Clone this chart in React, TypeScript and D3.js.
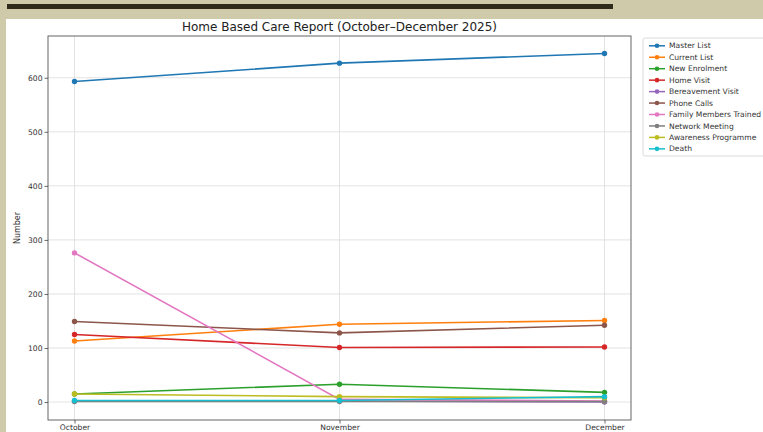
import React, { useEffect, useRef } from 'react';
import * as d3 from 'd3';

const width = 763;
const height = 432;
const margin = { top: 36, right: 132, bottom: 12, left: 48 };
const font = 'DejaVu Sans, sans-serif';

// chart values
const months = ['October', 'November', 'December'];
const seriesNames = [
	'Master List',
	'Current List',
	'New Enrolment',
	'Home Visit',
	'Bereavement Visit',
	'Phone Calls',
	'Family Members Trained',
	'Network Meeting',
	'Awareness Programme',
	'Death'
];
const masterList = [593, 627, 645];
const currentList = [113, 144, 151];
const newEnrolment = [15, 33, 18];
const homeVisit = [125, 101, 102];
const bereavementVisit = [2, 2, 0];
const phoneCalls = [149, 128, 142];
const familyTrained = [276, 5, 2];
const networkMeeting = [1, 1, 1];
const awarenessProgramme = [15, 10, 8];
const death = [3, 3, 10];
const yTicks = [0, 100, 200, 300, 400, 500, 600];

const colors = d3.schemeCategory10;

export default function App() {
	const axisX = useRef(null);
	const axisY = useRef(null);

	const values = [
		masterList,
		currentList,
		newEnrolment,
		homeVisit,
		bereavementVisit,
		phoneCalls,
		familyTrained,
		networkMeeting,
		awarenessProgramme,
		death
	];
	const series = seriesNames.map((name, i) => ({ name, values: values[i], color: colors[i] }));

	const plotRightX = 631; // right spine
	const plotBottom = height - margin.bottom;
	const plotW = plotRightX - margin.left;

	const xScale = d3.scalePoint().domain(months).range([margin.left, plotRightX]).padding(0.1);

	// matplotlib style 5% padding on the data range
	const lo = d3.min(values.flat());
	const hi = d3.max(values.flat());
	const pad = (hi - lo) * 0.05;
	const yScale = d3.scaleLinear().domain([lo - pad, hi + pad]).range([plotBottom - 0.5, margin.top]);

	const line = d3
		.line()
		.x((d, i) => xScale(months[i]))
		.y((d) => yScale(d));

	useEffect(() => {
		const xa = d3.select(axisX.current).call(d3.axisBottom(xScale).tickSize(3.5).tickPadding(1.5));
		const ya = d3.select(axisY.current).call(d3.axisLeft(yScale).tickValues(yTicks).tickSize(3.5).tickPadding(2));
		[xa, ya].forEach((a) => {
			a.select('.domain').remove();
			a.selectAll('text').attr('font-size', 7.6).attr('font-family', font).attr('fill', '#333');
			a.selectAll('line').attr('stroke', '#444').attr('stroke-width', 0.8);
		});
	});

	return (
		<div style={{ position: 'fixed', left: 0, top: 0 }}>
			<svg width={width} height={height} style={{ display: 'block' }}>
				<rect x={0} y={0} width={width} height={height} fill="#cfcaa9" />
				<rect x={7} y={4} width={606} height={5} fill="#2e2a1c" />
				<rect x={6} y={19} width={width - 6} height={height - 19} fill="#fff" />

				<text x={margin.left + plotW / 2} y={31} textAnchor="middle" fontFamily={font} fontSize={12} fill="#222">
					Home Based Care Report (October–December 2025)
				</text>

				{/* grid */}
				<g stroke="#dcdcdc" strokeWidth={0.8}>
					{months.map((m) => (
						<line key={m} x1={xScale(m)} x2={xScale(m)} y1={margin.top} y2={plotBottom} />
					))}
					{yTicks.map((t) => (
						<line key={t} x1={margin.left} x2={plotRightX} y1={yScale(t)} y2={yScale(t)} />
					))}
				</g>

				{series.map((s) => (
					<g key={s.name}>
						<path d={line(s.values)} fill="none" stroke={s.color} strokeWidth={1.6} />
						{s.values.map((v, i) => (
							<circle key={i} cx={xScale(months[i])} cy={yScale(v)} r={2.7} fill={s.color} />
						))}
					</g>
				))}

				<rect
					x={margin.left}
					y={margin.top}
					width={plotW}
					height={plotBottom - margin.top}
					fill="none"
					stroke="#555"
					strokeWidth={0.9}
				/>
				<g ref={axisX} transform={`translate(0, ${plotBottom})`} />
				<g ref={axisY} transform={`translate(${margin.left}, 0)`} />

				<text
					transform={`translate(20, ${(margin.top + plotBottom) / 2}) rotate(-90)`}
					textAnchor="middle"
					fontFamily={font}
					fontSize={8}
					fill="#333"
				>
					Number
				</text>

				{/* legend */}
				<g>
					<rect x={643} y={38} width={130} height={118} rx={2} fill="#fff" stroke="#d0d0d0" strokeWidth={0.8} />
					{series.map((s, i) => {
						const y = 45.8 + i * 11.45;
						return (
							<g key={s.name}>
								<line x1={649} x2={665} y1={y} y2={y} stroke={s.color} strokeWidth={1.5} />
								<circle cx={657} cy={y} r={2.3} fill={s.color} />
								<text x={669} y={y + 2.6} fontFamily={font} fontSize={7.6} fill="#333">
									{s.name}
								</text>
							</g>
						);
					})}
				</g>
			</svg>
		</div>
	);
}
